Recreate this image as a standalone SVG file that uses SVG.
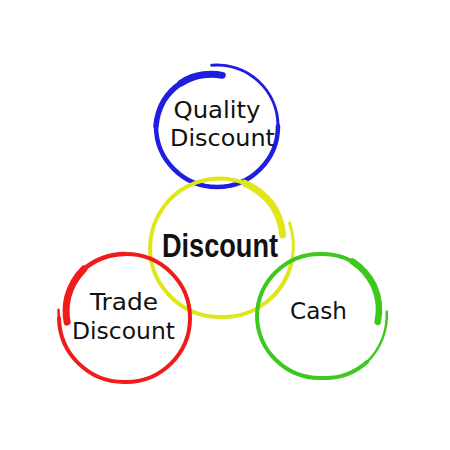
<svg xmlns="http://www.w3.org/2000/svg" width="450" height="450" viewBox="0 0 450 450">
  <style>
    .ring { fill: none; stroke-linecap: round; stroke-linejoin: round; }
    .lbl { font-family: "DejaVu Sans", "Open Sans", sans-serif; font-size: 23px; fill: #111; text-anchor: middle; }
    .main { font-family: "Liberation Sans", "Open Sans", sans-serif; font-size: 34px; font-weight: bold; fill: #111; text-anchor: middle; }
  </style>
  <rect width="450" height="450" fill="#ffffff"/>

  <g id="quality-discount">
    <path class="ring" stroke="#1f1ee0" stroke-width="7" d="M222.3,75.3 A52,52 0 0,0 203.3,74.8 A55,55 0 0,0 181,83.1"/>
    <path class="ring" stroke="#1f1ee0" stroke-width="5.5" d="M181,83.1 A58,58 0 0,0 163.5,101.1 A60,60 0 0,0 156,126"/>
    <path class="ring" stroke="#1f1ee0" stroke-width="4.5" d="M156,126 A61,61 0 0,0 217,187 A61,61 0 0,0 278,126"/>
    <path class="ring" stroke="#1f1ee0" stroke-width="3" d="M278,126 A61,61 0 0,0 211.7,65.2"/>
    <text class="lbl" x="217" y="118" textLength="87" lengthAdjust="spacingAndGlyphs">Quality</text>
    <text class="lbl" x="222.5" y="145.5" textLength="105" lengthAdjust="spacingAndGlyphs">Discount</text>
  </g>

  <g id="discount">
    <path class="ring" stroke="#dfe61a" stroke-width="3" d="M289.6,223 A73,73 0 0,1 291.9,260.5"/>
    <path class="ring" stroke="#dfe61a" stroke-width="4" d="M291.9,260.5 A70,70 0 0,1 221,317 A70,70 0 0,1 150,248 A70,70 0 0,1 197.1,182.2 A70,70 0 0,1 244.6,183.2"/>
    <path class="ring" stroke="#dfe61a" stroke-width="7" d="M244.6,183.2 A68,68 0 0,1 272.3,204.9 A65,65 0 0,1 282.6,234.9"/>
    <text class="main" x="220" y="257" textLength="116" lengthAdjust="spacingAndGlyphs">Discount</text>
  </g>

  <g id="trade-discount">
    <path class="ring" stroke="#f01c1c" stroke-width="7" d="M67.1,322 A60,60 0 0,1 67.7,297.1 A62,62 0 0,1 83.9,269"/>
    <path class="ring" stroke="#f01c1c" stroke-width="4.5" d="M83.9,269 A65,65 0 0,1 125,254"/>
    <path class="ring" stroke="#f01c1c" stroke-width="4" d="M125,254 A64,64 0 0,1 190,318 A64,64 0 0,1 125,382 A65,65 0 0,1 59,318"/>
    <path class="ring" stroke="#f01c1c" stroke-width="2.5" d="M59,318 A66,66 0 0,1 58.5,309.8"/>
    <text class="lbl" x="124" y="310" textLength="68" lengthAdjust="spacingAndGlyphs">Trade</text>
    <text class="lbl" x="123.5" y="339" textLength="103" lengthAdjust="spacingAndGlyphs">Discount</text>
  </g>

  <g id="cash">
    <path class="ring" stroke="#3cc81e" stroke-width="2.5" d="M386.8,311.4 A66,66 0 0,1 367,362"/>
    <path class="ring" stroke="#3cc81e" stroke-width="4" d="M367,362 A64,64 0 0,1 321,378 A63,63 0 0,1 257,316 A63,63 0 0,1 321,254 A62,62 0 0,1 352.5,261.4"/>
    <path class="ring" stroke="#3cc81e" stroke-width="6.5" d="M352.5,261.4 A62,62 0 0,1 373.8,285.5 A59,59 0 0,1 377.7,322"/>
    <text class="lbl" x="318.5" y="319" textLength="57" lengthAdjust="spacingAndGlyphs">Cash</text>
  </g>
</svg>
